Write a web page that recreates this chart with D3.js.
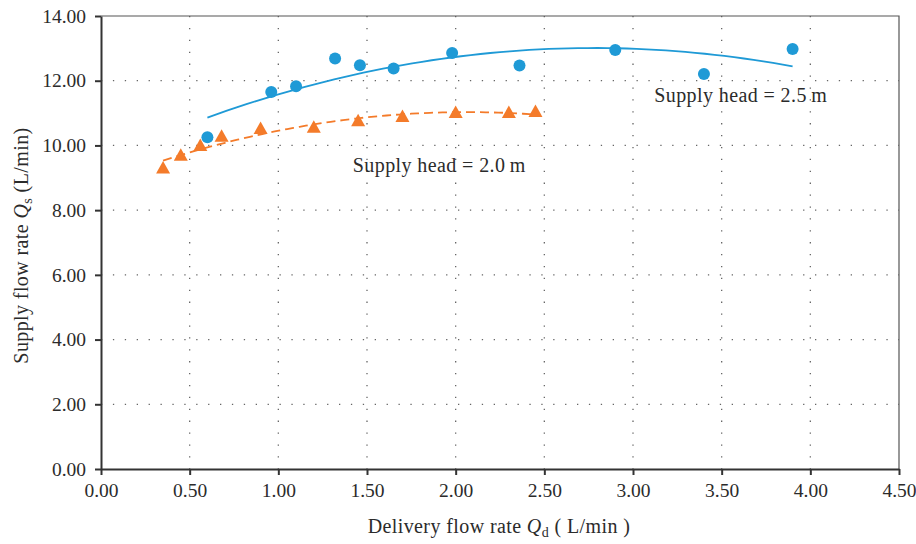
<!DOCTYPE html>
<html>
<head>
<meta charset="utf-8">
<script src="https://cdn.jsdelivr.net/npm/d3@7"></script>
<style>
  body { margin: 0; background: #fff; }
  svg text { font-family: "Liberation Serif", "DejaVu Serif", serif; fill: #2b2b2b; letter-spacing: 0.4px; }
</style>
</head>
<body>
<svg id="chart" width="916" height="544"></svg>
<script>
// Supply head = 2.5 m (circles)
var head25X = [0.60, 0.96, 1.10, 1.32, 1.46, 1.65, 1.98, 2.36, 2.90, 3.40, 3.90];
var head25Y = [10.25, 11.65, 11.83, 12.69, 12.48, 12.38, 12.86, 12.47, 12.95, 12.21, 12.98];
// Supply head = 2.0 m (triangles)
var head20X = [0.35, 0.45, 0.56, 0.68, 0.90, 1.20, 1.45, 1.70, 2.00, 2.30, 2.45];
var head20Y = [9.29, 9.68, 9.98, 10.27, 10.51, 10.55, 10.75, 10.88, 11.00, 11.00, 11.03];

var xTicks = [0, 0.5, 1, 1.5, 2, 2.5, 3, 3.5, 4, 4.5];
var yTicks = [0, 2, 4, 6, 8, 10, 12, 14];

var margin = {top: 16, right: 17, bottom: 75, left: 101},
    width = 916 - margin.left - margin.right,
    height = 544 - margin.top - margin.bottom;

var x = d3.scaleLinear().domain([0, 4.5]).range([0, width]);
var y = d3.scaleLinear().domain([0, 14]).range([height, 0]);

var svg = d3.select("#chart").append("g")
    .attr("transform", "translate(" + margin.left + "," + margin.top + ")");

// least squares quadratic fit (trendline)
function quadFit(xs, ys) {
    var n = xs.length, s = [0, 0, 0, 0, 0], t = [0, 0, 0];
    for (var i = 0; i < n; i++) {
        for (var k = 0; k < 5; k++) s[k] += Math.pow(xs[i], k);
        for (var k = 0; k < 3; k++) t[k] += ys[i] * Math.pow(xs[i], k);
    }
    var A = [[s[0], s[1], s[2], t[0]], [s[1], s[2], s[3], t[1]], [s[2], s[3], s[4], t[2]]];
    for (var c = 0; c < 3; c++) {
        for (var r = c + 1; r < 3; r++) {
            var f = A[r][c] / A[c][c];
            for (var j = c; j < 4; j++) A[r][j] -= f * A[c][j];
        }
    }
    var b = [0, 0, 0];
    for (var r = 2; r >= 0; r--) {
        var v = A[r][3];
        for (var j = r + 1; j < 3; j++) v -= A[r][j] * b[j];
        b[r] = v / A[r][r];
    }
    return function(v) { return b[0] + b[1] * v + b[2] * v * v; };
}

// grid
svg.append("g").selectAll("line").data(yTicks.slice(1, -1)).enter().append("line")
    .attr("x1", 0).attr("x2", width)
    .attr("y1", function(d) { return y(d); }).attr("y2", function(d) { return y(d); })
    .attr("stroke", "#666").attr("stroke-width", 1.3).attr("stroke-dasharray", "1.3,10.6");
svg.append("g").selectAll("line").data(xTicks.slice(1, -1)).enter().append("line")
    .attr("y1", 0).attr("y2", height)
    .attr("x1", function(d) { return x(d); }).attr("x2", function(d) { return x(d); })
    .attr("stroke", "#666").attr("stroke-width", 1.3).attr("stroke-dasharray", "1.3,10.6");

// frame top and right
svg.append("path")
    .attr("d", "M0,0H" + width + "V" + height)
    .attr("fill", "none").attr("stroke", "#555").attr("stroke-width", 1.2);

// axes
var xAxis = svg.append("g")
    .attr("transform", "translate(0," + height + ")")
    .call(d3.axisBottom(x).tickValues(xTicks).tickFormat(d3.format(".2f")).tickSizeInner(6).tickSizeOuter(0).tickPadding(8));
var yAxis = svg.append("g")
    .call(d3.axisLeft(y).tickValues(yTicks).tickFormat(d3.format(".2f")).tickSizeInner(6).tickSizeOuter(0).tickPadding(9));
[xAxis, yAxis].forEach(function(a) {
    a.select(".domain").attr("stroke", "#333").attr("stroke-width", 2);
    a.selectAll(".tick line").attr("stroke", "#333").attr("stroke-width", 2);
    a.selectAll(".tick text").attr("font-size", 19.5).attr("fill", "#2b2b2b")
        .attr("font-family", "Liberation Serif, serif").style("letter-spacing", "0px");
});

// trend lines
var line = d3.line().x(function(d) { return x(d[0]); }).y(function(d) { return y(d[1]); });
function trend(xs, ys) {
    var f = quadFit(xs, ys), lo = d3.min(xs), hi = d3.max(xs);
    return d3.range(0, 61).map(function(i) { var v = lo + (hi - lo) * i / 60; return [v, f(v)]; });
}
svg.append("path").datum(trend(head25X, head25Y))
    .attr("d", line).attr("fill", "none").attr("stroke", "#1f9ad6").attr("stroke-width", 1.8);
svg.append("path").datum(trend(head20X, head20Y))
    .attr("d", line).attr("fill", "none").attr("stroke", "#f47b2a").attr("stroke-width", 1.8)
    .attr("stroke-dasharray", "9,5");

// markers
svg.append("g").selectAll("circle").data(d3.zip(head25X, head25Y)).enter().append("circle")
    .attr("cx", function(d) { return x(d[0]); }).attr("cy", function(d) { return y(d[1]); })
    .attr("r", 6).attr("fill", "#1f9ad6");
svg.append("g").selectAll("path").data(d3.zip(head20X, head20Y)).enter().append("path")
    .attr("transform", function(d) { return "translate(" + x(d[0]) + "," + y(d[1]) + ")"; })
    .attr("d", "M0,-7.5L7,5L-7,5Z").attr("fill", "#f47b2a");

// annotations
svg.append("text").attr("x", x(3.12)).attr("y", y(11.33))
    .attr("font-size", 20).text("Supply head = 2.5\u2009m");
svg.append("text").attr("x", x(1.42)).attr("y", y(9.18))
    .attr("font-size", 20).text("Supply head = 2.0\u2009m");

// axis titles
var xt = svg.append("text").attr("x", width / 2 - 1).attr("y", height + 64)
    .attr("text-anchor", "middle").attr("font-size", 20);
xt.append("tspan").text("Delivery flow rate ");
xt.append("tspan").attr("font-style", "italic").text("Q");
xt.append("tspan").attr("font-size", 14).attr("dy", 4).text("d");
xt.append("tspan").attr("dy", -4).text(" ( L/min )");

var yt = svg.append("text")
    .attr("transform", "translate(" + (-73) + "," + (height / 2 + 3) + ") rotate(-90)")
    .attr("text-anchor", "middle").attr("font-size", 20);
yt.append("tspan").text("Supply flow rate ");
yt.append("tspan").attr("font-style", "italic").text("Q");
yt.append("tspan").attr("font-size", 14).attr("dy", 4).text("s");
yt.append("tspan").attr("dy", -4).text(" (L/min)");
</script>
</body>
</html>
